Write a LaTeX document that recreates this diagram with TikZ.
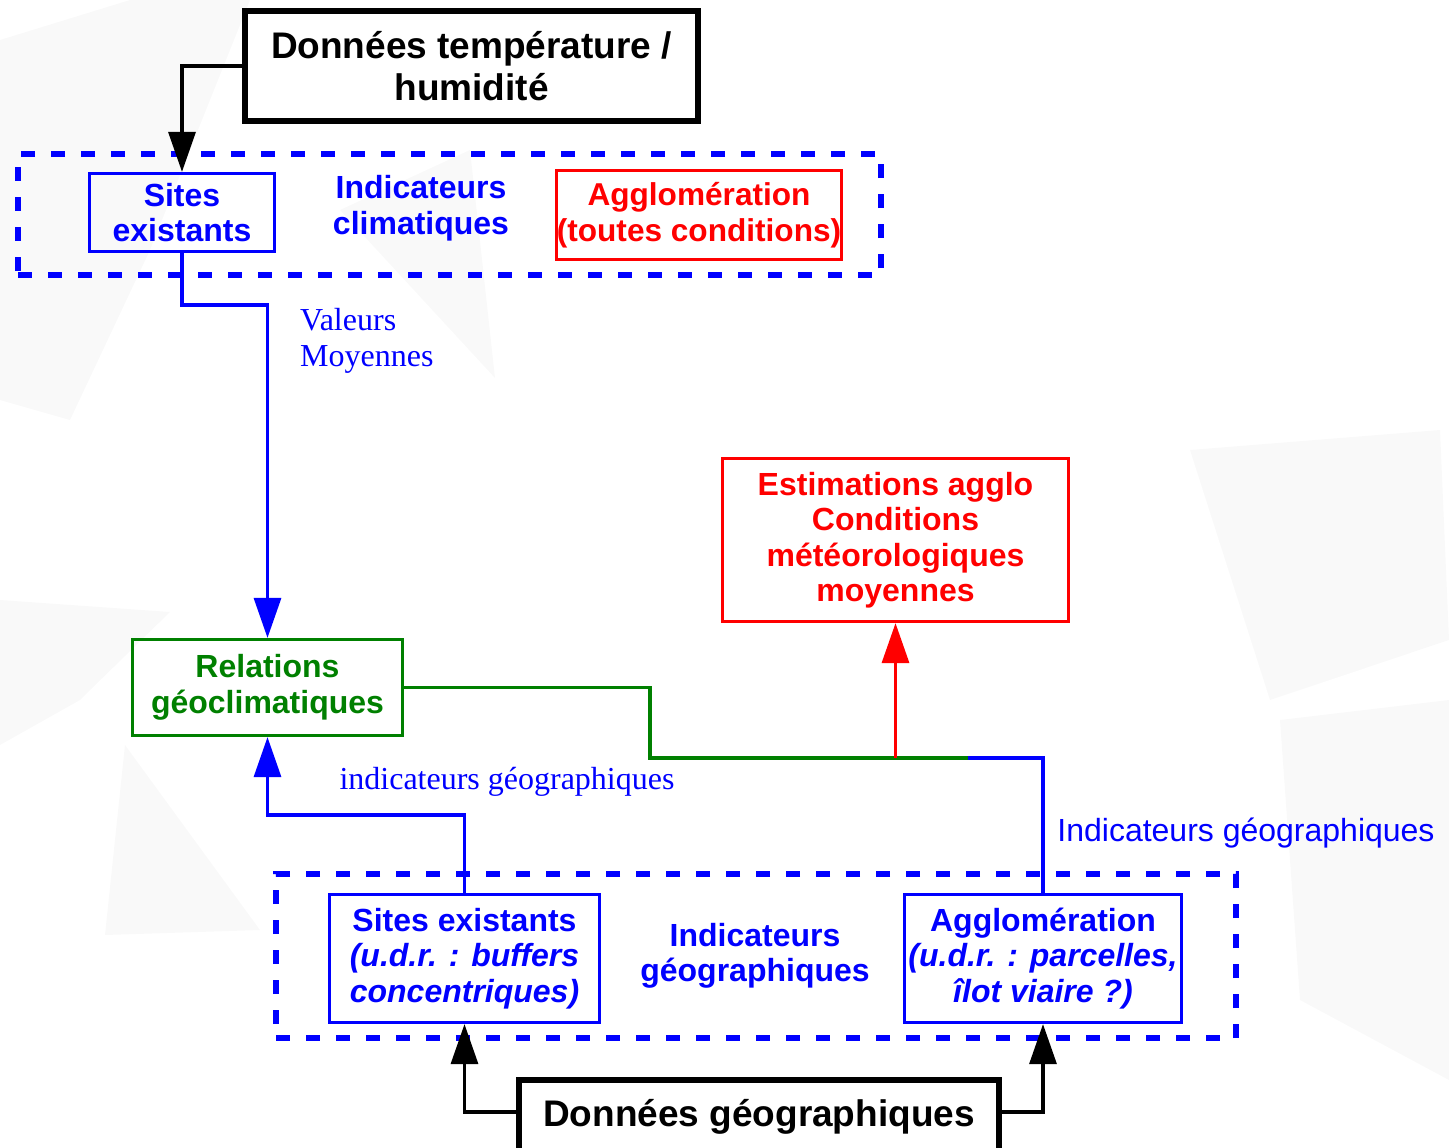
\documentclass[tikz,border=0pt]{standalone}
\usepackage{fontspec}
\newfontfamily\lsans{Liberation Sans}
\newfontfamily\lserif{Liberation Serif}
\usetikzlibrary{arrows.meta}
\definecolor{cblue}{RGB}{0,0,255}
\definecolor{cred}{RGB}{255,0,0}
\definecolor{cgreen}{RGB}{0,128,0}
\definecolor{bgtri}{RGB}{249,249,249}
\begin{document}
\begin{tikzpicture}[x=1pt,y=-1pt,
  box/.style={draw, rectangle, inner sep=0pt, align=center,
    font=\lsans\bfseries\fontsize{32}{35.5}\selectfont, line width=3.2pt},
  blackbox/.style={box, draw=black, line width=6pt,
    font=\lsans\bfseries\fontsize{37}{42}\selectfont},
  bluebox/.style={box, draw=cblue, text=cblue},
  redbox/.style={box, draw=cred, text=cred},
  greenbox/.style={box, draw=cgreen, text=cgreen},
  grouptxt/.style={align=center, text=cblue, inner sep=0pt,
    font=\lsans\bfseries\fontsize{32}{35.5}\selectfont},
  groupbox/.style={draw=cblue, line width=6pt, dash pattern=on 14pt off 16pt,
    rectangle, inner sep=0pt},
  serifnote/.style={text=cblue, inner sep=0pt, align=left,
    font=\lserif\fontsize{32}{36}\selectfont},
  sansnote/.style={text=cblue, inner sep=0pt,
    font=\lsans\fontsize{32}{36}\selectfont},
  tipA/.style={-{Triangle[length=40pt,width=27pt]}},
  conn/.style={line width=3.2pt},
]
\useasboundingbox (0,0) rectangle (1449,1148);
\clip (0,0) rectangle (1449,1148);
% faint background shapes
\fill[bgtri] (0,40) -- (130,0) -- (250,0) -- (150,250) -- (70,420) -- (0,400) -- cycle;
\fill[bgtri] (340,210) -- (470,150) -- (495,378) -- cycle;
\fill[bgtri] (0,600) -- (170,612) -- (80,700) -- (0,745) -- cycle;
\fill[bgtri] (125,745) -- (260,930) -- (105,935) -- cycle;
\fill[bgtri] (1190,450) -- (1440,430) -- (1449,640) -- (1270,700) -- cycle;
\fill[bgtri] (1280,720) -- (1449,700) -- (1449,1080) -- (1300,1000) -- cycle;

% groups
\node[groupbox, minimum width=863pt, minimum height=121pt] (grp1) at (449.5,214.5) {};
\node[groupbox, minimum width=960pt, minimum height=164pt] (grp2) at (756,956) {};

% nodes
\node[blackbox, minimum width=453pt, minimum height=110pt] (temp) at (471.5,66)
  {Données température /\\humidité};
\node[bluebox, minimum width=185pt, minimum height=78pt] (sites1) at (182,212.5)
  {Sites\\existants};
\node[grouptxt] (indclim) at (421,208) {Indicateurs\\climatiques};
\node[redbox, minimum width=285pt, minimum height=89pt,
  font=\lsans\bfseries\fontsize{31.6}{35.5}\selectfont] (agglo1) at (699,215)
  {Agglomération\\(toutes conditions)};
\node[greenbox, minimum width=270pt, minimum height=96pt] (rel) at (267.5,687.5)
  {Relations\\géoclimatiques};
\node[redbox, minimum width=346pt, minimum height=163pt] (estim) at (895.5,540)
  {Estimations agglo\\Conditions\\météorologiques\\moyennes};
\node[bluebox, minimum width=270pt, minimum height=128pt] (sites2) at (464.5,958.5)
  {Sites existants\\\itshape(u.d.r. : buffers\\\itshape concentriques)};
\node[grouptxt] (indgeo) at (755,956) {Indicateurs\\géographiques};
\node[bluebox, minimum width=277pt, minimum height=128pt] (agglo2) at (1043,958.5)
  {Agglomération\\\itshape(u.d.r. : parcelles,\\\itshape îlot viaire ?)};
\node[blackbox, minimum width=480pt, minimum height=74pt] (dgeo) at (759,1117)
  {Données géographiques};

% labels
\node[serifnote, anchor=west] (valmoy) at (300,341) {Valeurs\\Moyennes};
\node[serifnote] (indg1) at (507,782) {indicateurs géographiques};
\node[sansnote] (indg2) at (1246,833) {Indicateurs géographiques};

% connectors
\coordinate (v1) at (220,305);
\coordinate (v2) at (400,815);
\coordinate (g1) at (650,758);
\coordinate (jn) at (968,758);
\coordinate (rj) at (895.5,758);

\draw[conn, tipA, black] (temp.west) -| (sites1.north);
\draw[conn, tipA, cblue] (sites1.south) |- (v1) -| (rel.north);
\draw[conn, tipA, cblue] (sites2.north) |- (v2) -| (rel.south);
\draw[conn, cblue] (agglo2.north) |- (jn);
\draw[conn, cgreen] (rel.east) -| (g1) -- (jn);
\draw[conn, tipA, cred] (rj) -- (estim.south);
\draw[conn, tipA, black] ([yshift=5pt]dgeo.west) -| (sites2.south);
\draw[conn, tipA, black] ([yshift=5pt]dgeo.east) -| (agglo2.south);
\end{tikzpicture}
\end{document}
